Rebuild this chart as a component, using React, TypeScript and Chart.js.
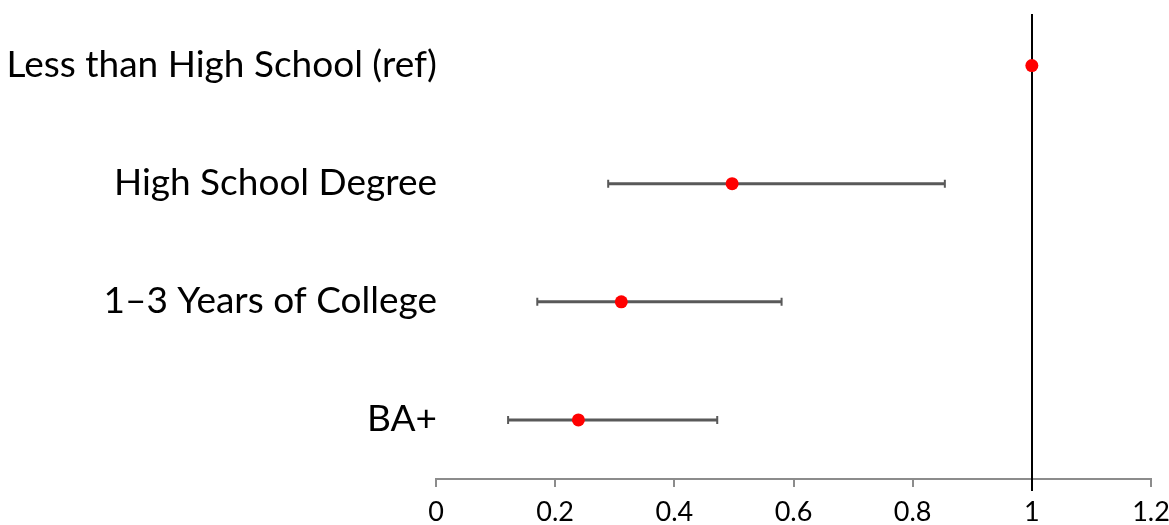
import React, { useEffect, useRef } from "react";
import { Chart, registerables } from "chart.js";

Chart.register(...registerables);

const categories = [
  "Less than High School (ref)",
  "High School Degree",
  "1–3 Years of College",
  "BA+",
];
const estimates = [1, 0.497, 0.311, 0.239];
const lowerCI: (number | null)[] = [null, 0.289, 0.17, 0.121];
const upperCI: (number | null)[] = [null, 0.854, 0.58, 0.472];
const xTicks = [0, 0.2, 0.4, 0.6, 0.8, 1, 1.2];
const refValue = 1;

const FONT = "Lato, 'Noto Sans', sans-serif";

export default function App() {
  const ref = useRef<HTMLCanvasElement | null>(null);

  useEffect(() => {
    if (!ref.current) return;

    const forestPlugin = {
      id: "forestPlugin",
      beforeDatasetsDraw(chart: any) {
        const ctx = chart.ctx;
        const xs = chart.scales.x;
        const ys = chart.scales.y;
        ctx.save();
        // category labels
        ctx.fillStyle = "#000";
        ctx.font = `37px ${FONT}`;
        ctx.textAlign = "right";
        ctx.textBaseline = "middle";
        for (let i = 0; i < categories.length; i++) {
          ctx.fillText(categories[i], xs.left + 1, ys.getPixelForValue(i) - 1);
        }
        // reference line
        ctx.strokeStyle = "#000";
        ctx.lineWidth = 2;
        const rx = Math.round(xs.getPixelForValue(refValue));
        ctx.beginPath();
        ctx.moveTo(rx, 14);
        ctx.lineTo(rx, xs.top + 12);
        ctx.stroke();
        // error bars
        ctx.strokeStyle = "#595959";
        for (let i = 0; i < categories.length; i++) {
          const lo = lowerCI[i];
          const hi = upperCI[i];
          if (lo == null || hi == null) continue;
          const y = ys.getPixelForValue(i);
          const x1 = xs.getPixelForValue(lo);
          const x2 = xs.getPixelForValue(hi);
          ctx.lineWidth = 3;
          ctx.beginPath();
          ctx.moveTo(x1, y);
          ctx.lineTo(x2, y);
          ctx.stroke();
          ctx.lineWidth = 2;
          ctx.beginPath();
          ctx.moveTo(x1, y - 4);
          ctx.lineTo(x1, y + 4);
          ctx.moveTo(x2, y - 4);
          ctx.lineTo(x2, y + 4);
          ctx.stroke();
        }
        ctx.restore();
      },
    };

    const chart = new Chart(ref.current, {
      type: "scatter",
      data: {
        datasets: [
          {
            data: estimates.map((v, i) => ({ x: v, y: i })),
            backgroundColor: "#ff0000",
            borderColor: "#ff0000",
            pointRadius: 6.5,
            pointHoverRadius: 6.5,
            borderWidth: 0,
          },
        ],
      },
      options: {
        animation: false,
        responsive: false,
        maintainAspectRatio: false,
        layout: { padding: { top: 4, right: 18, bottom: 0, left: 0 } },
        plugins: { legend: { display: false }, tooltip: { enabled: false } },
        scales: {
          x: {
            type: "linear",
            min: 0,
            max: 1.2,
            afterBuildTicks: (scale: any) => {
              scale.ticks = xTicks.map((v) => ({ value: v }));
            },
            afterFit: (scale: any) => {
              scale.height = 46;
              scale.paddingLeft = 0;
              scale.paddingRight = 0;
            },
            grid: {
              drawOnChartArea: false,
              drawTicks: true,
              tickLength: 8,
              color: "#8c8c8c",
              lineWidth: 2,
            },
            border: { display: true, color: "#8c8c8c", width: 2 },
            ticks: {
              color: "#000",
              font: { family: FONT, size: 27 },
              padding: 9,
              maxRotation: 0,
              autoSkip: false,
              callback: (v: any) => String(Math.round(Number(v) * 10) / 10),
            },
          },
          y: {
            type: "linear",
            min: -0.5,
            max: 3.5,
            reverse: true,
            afterBuildTicks: (scale: any) => {
              scale.ticks = categories.map((_, i) => ({ value: i }));
            },
            afterFit: (scale: any) => {
              scale.width = 436;
            },
            grid: { display: false, drawTicks: false },
            border: { display: false },
            ticks: { display: false },
          },
        },
      },
      plugins: [forestPlugin],
    });

    return () => chart.destroy();
  }, []);

  return (
    <div style={{ position: "absolute", left: 0, top: 0, width: 1169, height: 525, background: "#fff" }}>
      <canvas ref={ref} width={1169} height={525} style={{ width: 1169, height: 525 }} />
    </div>
  );
}
